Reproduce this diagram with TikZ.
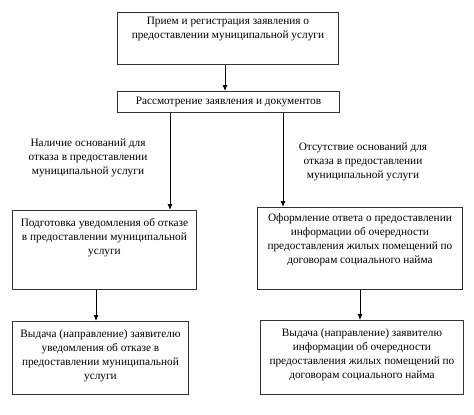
\documentclass[tikz,border=0pt]{standalone}
\usepackage{fontspec}
\setmainfont{Liberation Serif}
\usetikzlibrary{arrows.meta}

\begin{document}
\begin{tikzpicture}[
          x=1pt, y=-1pt,
          stage/.style={draw=black!80, line width=0.9pt, anchor=north west,
                        inner sep=0pt, font=\fontsize{11.3}{14}\selectfont},
          arr/.style={-{Latex[length=6pt,width=5pt]}, line width=0.9pt},
          note/.style={font=\fontsize{11.3}{14}\selectfont, align=center}
        ]
          \useasboundingbox (0,0) rectangle (474,415);
          \node[stage] (recv) at (117,12)
            {\parbox[t][52pt][t]{221pt}{\centering\vspace{5pt}
             Прием и регистрация заявления о\\
             предоставлении муниципальной услуги}};
          \node[stage] (review) at (117,91)
            {\parbox[t][21pt][c]{222pt}{\centering
             Рассмотрение заявления и документов}};
          \node[stage] (refprep) at (12,210)
            {\parbox[t][79pt][t]{184pt}{\centering\vspace{8pt}
             Подготовка уведомления об отказе\\
             в предоставлении муниципальной\\
             услуги}};
          \node[stage] (ansprep) at (257,207)
            {\parbox[t][82pt][t]{205pt}{\centering\vspace{6pt}
             Оформление ответа о предоставлении\\
             информации об очередности\\
             предоставления жилых помещений по\\
             договорам социального найма}};
          \node[stage] (refout) at (12,321)
            {\parbox[t][73pt][t]{176pt}{\centering\vspace{8pt}
             Выдача (направление) заявителю\\
             уведомления об отказе в\\
             предоставлении муниципальной\\
             услуги}};
          \node[stage] (ansout) at (260,320)
            {\parbox[t][74pt][t]{203pt}{\centering\vspace{8pt}
             Выдача (направление) заявителю\\
             информации об очередности\\
             предоставления жилых помещений по\\
             договорам социального найма}};
          \node[note] (yes) at (88,158)
            {Наличие оснований для\\ отказа в предоставлении\\ муниципальной услуги};
          \node[note] (no) at (363,162)
            {Отсутствие оснований для\\ отказа в предоставлении\\ муниципальной услуги};
          \coordinate (mid) at (225,0);
          \coordinate (lft) at (170,0);
          \coordinate (rgt) at (283,0);
          \coordinate (lft2) at (96,0);
          \coordinate (rgt2) at (360,0);
          \draw[arr] (recv.south -| mid) -- (review.north -| mid);
          \draw[arr] (review.south -| lft) -- (refprep.north -| lft);
          \draw[arr] (review.south -| rgt) -- (ansprep.north -| rgt);
          \draw[arr] (refprep.south -| lft2) -- (refout.north -| lft2);
          \draw[arr] (ansprep.south -| rgt2) -- (ansout.north -| rgt2);
        \end{tikzpicture}
\end{document}
